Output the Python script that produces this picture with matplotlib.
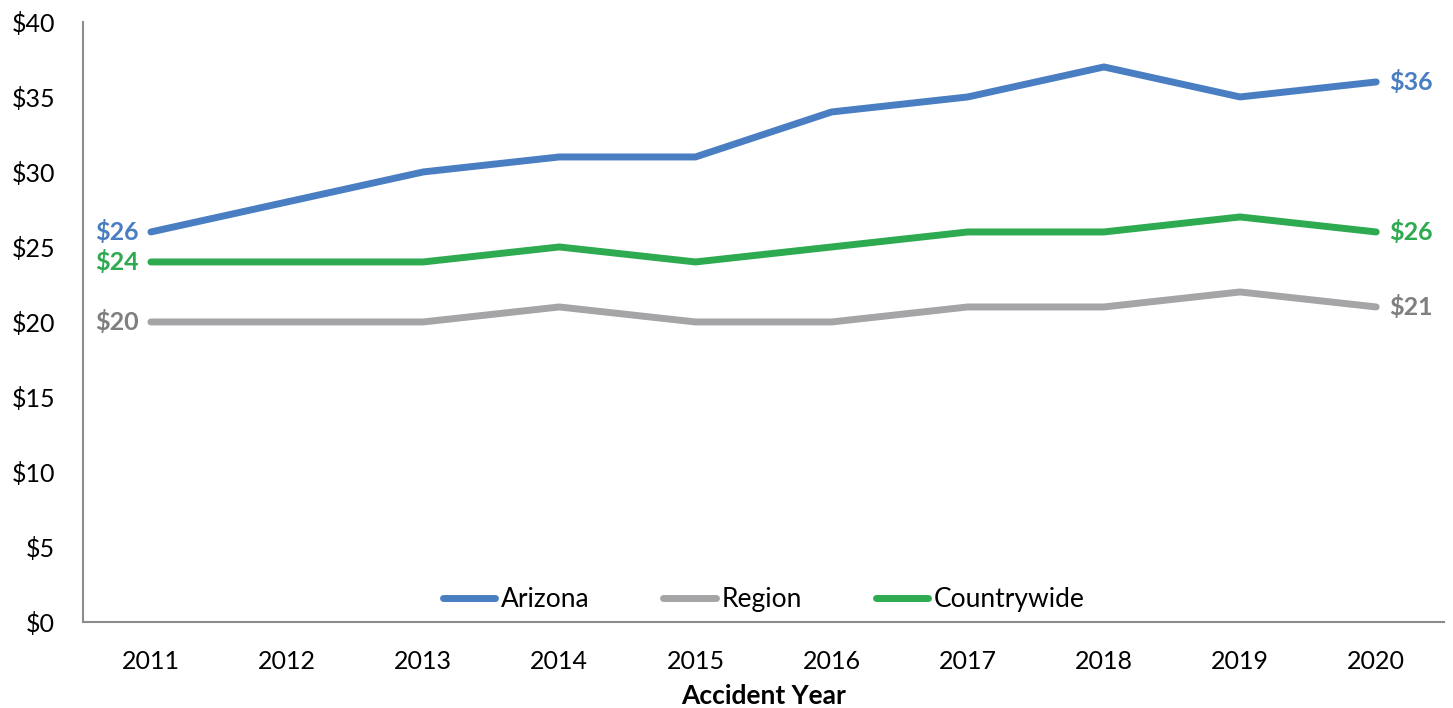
import matplotlib
matplotlib.use("Agg")
import matplotlib.pyplot as plt
from matplotlib.ticker import FuncFormatter

# ─────────────────────────────────────────
# Data
# ─────────────────────────────────────────
years       = ["2011", "2012", "2013", "2014", "2015", "2016", "2017", "2018", "2019", "2020"]
arizona     = [26, 28, 30, 31, 31, 34, 35, 37, 35, 36]
region      = [20, 20, 20, 21, 20, 20, 21, 21, 22, 21]
countrywide = [24, 24, 24, 25, 24, 25, 26, 26, 27, 26]

series = [
    ("Arizona",     arizona,     "#4a7ec2", "#4a7ec2"),
    ("Region",      region,      "#a5a5a8", "#7f7f7f"),
    ("Countrywide", countrywide, "#2eaa50", "#2eaa50"),
]

plt.rcParams["font.family"] = ["Lato", "DejaVu Sans"]

fig = plt.figure(figsize=(14.53, 7.08), dpi=100)
ax = fig.add_axes([0.057, 0.1215, 0.937, 0.8475])

x = list(range(len(years)))
for name, vals, color, lab_color in series:
    ax.plot(x, vals, color=color, linewidth=5, solid_capstyle="round",
            solid_joinstyle="round", label=name)
    ax.annotate(f"${vals[0]}", (x[0], vals[0]), xytext=(-9, 0),
                textcoords="offset points", ha="right", va="center",
                fontsize=18, fontweight="bold", color=lab_color)
    ax.annotate(f"${vals[-1]}", (x[-1], vals[-1]), xytext=(9, 0),
                textcoords="offset points", ha="left", va="center",
                fontsize=18, fontweight="bold", color=lab_color)

ax.set_xlim(-0.5, len(years) - 0.5)
ax.set_ylim(0, 40)
ax.set_yticks(range(0, 41, 5))
ax.yaxis.set_major_formatter(FuncFormatter(lambda v, p: f"${v:.0f}"))
ax.set_xticks(x)
ax.set_xticklabels(years)
ax.tick_params(axis="both", length=0, labelsize=18)
ax.tick_params(axis="x", pad=20)
ax.tick_params(axis="y", pad=20)

ax.set_xlabel("Accident Year", fontsize=19, fontweight="bold", labelpad=8)

for side in ["top", "right"]:
    ax.spines[side].set_visible(False)
for side in ["left", "bottom"]:
    ax.spines[side].set_color("#8c8c8c")
    ax.spines[side].set_linewidth(1.5)

ax.legend(loc="lower center", bbox_to_anchor=(0.5, -0.023), ncol=3, frameon=False,
          fontsize=19, handlelength=2.0, handletextpad=0.2, columnspacing=2.8)

fig.savefig("out.png", dpi=100)
